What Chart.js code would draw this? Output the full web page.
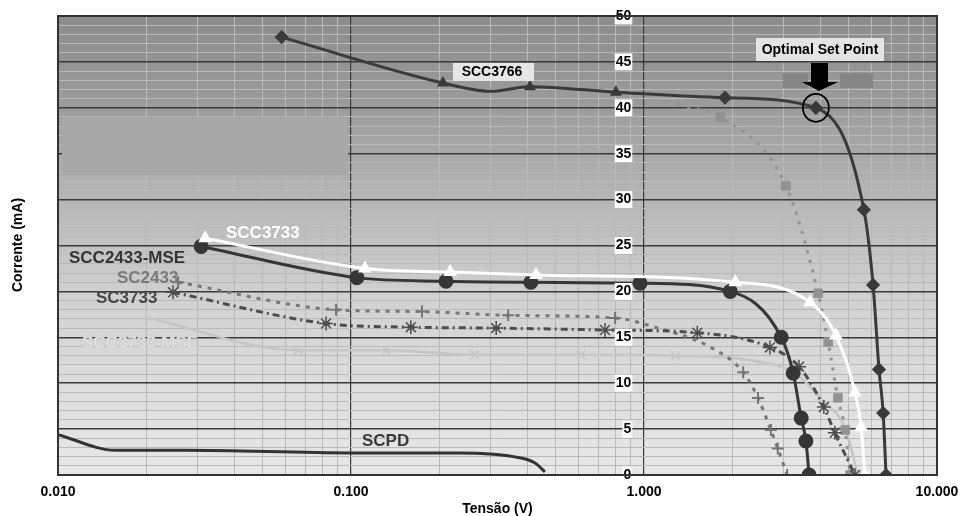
<!DOCTYPE html>
<html>
<head>
<meta charset="utf-8">
<script src="https://cdn.jsdelivr.net/npm/chart.js@4.4.1/dist/chart.umd.min.js"></script>
<style>
html,body{margin:0;padding:0;background:#fff;}
#wrap{width:961px;height:516px;}
</style>
</head>
<body>
<div id="wrap"><canvas id="chart"></canvas></div>
<script>
// series: tension (V) / current (mA)
const seriesNames = ["SCC3766", "SCC3733", "SCC2433-MSE", "SC3733", "SC2433", "SC3766", "SCC3733-MSE", "SCPD"];

const scc3766V = [0.058, 0.206, 0.30, 0.408, 0.802, 1.89, 3.86, 5.63, 6.05, 6.34, 6.55, 6.70];
const scc3766I = [47.7, 42.7, 41.8, 42.3, 41.7, 41.1, 40.0, 28.9, 20.7, 11.5, 6.75, 0];

const scc3733V = [0.0318, 0.1116, 0.218, 0.428, 2.05, 3.69, 4.52, 5.25, 5.51, 5.67];
const scc3733I = [25.8, 22.5, 22.1, 21.8, 21.0, 18.8, 15.2, 9.0, 5.2, 0];

const scc2433mseV = [0.0308, 0.1047, 0.211, 0.411, 0.969, 1.97, 2.94, 3.23, 3.44, 3.57, 3.66];
const scc2433mseI = [24.9, 21.5, 21.1, 21.0, 20.9, 20.0, 15.0, 11.1, 6.2, 3.7, 0];

const sc3733V = [0.0247, 0.0822, 0.160, 0.313, 0.736, 1.52, 2.69, 3.38, 4.11, 4.48, 5.25];
const sc3733I = [19.9, 16.5, 16.1, 16.0, 15.8, 15.5, 13.9, 11.8, 7.4, 4.6, 0];

const sc2433V = [0.0257, 0.0889, 0.1747, 0.344, 0.797, 1.09, 1.69, 2.18, 2.45, 2.71, 2.86, 3.08];
const sc2433I = [21.0, 18.0, 17.8, 17.4, 17.1, 16.1, 13.9, 11.2, 8.4, 4.9, 2.9, 0];

const sc3766V = [1.30, 1.82, 3.05, 3.93, 4.25, 4.59, 4.86, 5.05];
const sc3766I = [40.3, 39.0, 31.5, 19.8, 14.5, 8.4, 4.9, 0];

const scc3733mseV = [0.0203, 0.066, 0.1315, 0.265, 0.61, 1.28, 2.3, 3.3, 4.1, 4.86, 5.37];
const scc3733mseI = [17.1, 13.6, 13.6, 13.1, 13.1, 13.0, 12.5, 11.0, 8.0, 5.1, 0];

const scpdV = [0.01, 0.0157, 0.0271, 0.1, 0.232, 0.38, 0.425, 0.459];
const scpdI = [4.4, 2.7, 2.7, 2.4, 2.4, 1.85, 1.3, 0.33];

// x ticks: 1..9 per decade
const decades = [0.01, 0.1, 1];
const xTicks = [];
decades.forEach(d => { for (let k = 1; k <= 9; k++) xTicks.push(+(d * k).toPrecision(3)); });
xTicks.push(10);

const FONT = "'Liberation Sans', Arial, sans-serif";

function pts(xs, ys) { return xs.map((x, i) => ({x: x, y: ys[i]})); }
function isDecade(v) { const l = Math.log10(v); return Math.abs(l - Math.round(l)) < 1e-6; }

const datasets = [
    {label: seriesNames[0], data: pts(scc3766V, scc3766I), borderColor: "#3a3a3a", backgroundColor: "#3a3a3a",
     borderWidth: 3, pointStyle: ["rectRot","triangle","triangle","triangle","triangle","rectRot","rectRot","rectRot","rectRot","rectRot","rectRot","rectRot"],
     pointRadius: [5,4,0,4,4,5,5,5,5,5,5,5]},
    {label: seriesNames[1], data: pts(scc3733V, scc3733I), borderColor: "#ffffff", backgroundColor: "#ffffff",
     borderWidth: 3, pointStyle: "triangle", pointRadius: 5},
    {label: seriesNames[2], data: pts(scc2433mseV, scc2433mseI), borderColor: "#363636", backgroundColor: "#363636",
     borderWidth: 3, pointStyle: "circle", pointRadius: 6},
    {label: seriesNames[3], data: pts(sc3733V, sc3733I), borderColor: "#4d4d4d", backgroundColor: "#4d4d4d",
     borderWidth: 3, borderDash: [7,4,2,4], pointStyle: "star", pointRadius: 7, pointBorderWidth: 1.5},
    {label: seriesNames[4], data: pts(sc2433V, sc2433I), borderColor: "#767676", backgroundColor: "#767676",
     borderWidth: 3, borderDash: [4,6], pointStyle: "cross", pointRadius: [6,6,6,6,6,0,0,6,6,6,6,6], pointBorderWidth: 2},
    {label: seriesNames[5], data: pts(sc3766V, sc3766I), borderColor: "#929292", backgroundColor: "#929292",
     borderWidth: 3, borderDash: [3,7], pointStyle: "rect", pointRadius: [0,6,6,6,6,6,6,6], pointBorderWidth: 1},
    {label: seriesNames[6], data: pts(scc3733mseV, scc3733mseI), borderColor: "#c6c6c6", backgroundColor: "#c6c6c6",
     borderWidth: 2.5, pointStyle: "crossRot", pointRadius: [4,6,6,6,6,6,0,0,0,6,6], pointBorderWidth: 1.5},
    {label: seriesNames[7], data: pts(scpdV, scpdI), borderColor: "#333333", backgroundColor: "#333333",
     borderWidth: 3, pointRadius: 0}
];
datasets.forEach(d => { d.cubicInterpolationMode = "monotone"; d.fill = false; });

// background gradient, frame and annotations
const decor = {
    id: "decor",
    beforeDraw(chart) {
        const {ctx, chartArea: a} = chart;
        const g = ctx.createLinearGradient(0, a.top, 0, a.bottom);
        g.addColorStop(0, "#8c8c8c");
        g.addColorStop(0.2, "#9c9c9c");
        g.addColorStop(0.4, "#b6b6b6");
        g.addColorStop(0.62, "#d2d2d2");
        g.addColorStop(1, "#e8e8e8");
        ctx.save();
        ctx.fillStyle = g;
        ctx.fillRect(a.left, a.top, a.right - a.left, a.bottom - a.top);
        ctx.restore();
    },
    beforeDatasetsDraw(chart) {
        const ctx = chart.ctx;
        ctx.save();
        ctx.fillStyle = "#a8a8a8";
        ctx.fillRect(62, 118, 286, 57);
        ctx.restore();
    },
    afterDraw(chart) {
        const {ctx, chartArea: a, scales} = chart;
        ctx.save();
        // frame
        ctx.strokeStyle = "#333";
        ctx.lineWidth = 2;
        ctx.strokeRect(a.left, a.top, a.right - a.left, a.bottom - a.top);

        // SCC3766 label box
        ctx.fillStyle = "#e6e6e6";
        ctx.fillRect(453, 63, 81, 18);
        ctx.fillStyle = "#000";
        ctx.font = "bold 14px " + FONT;
        ctx.textAlign = "center";
        ctx.textBaseline = "middle";
        ctx.fillText("SCC3766", 492, 72);

        // Optimal Set Point
        ctx.fillStyle = "#e4e4e4";
        ctx.fillRect(756, 38, 128, 23);
        ctx.fillStyle = "#000";
        ctx.fillText("Optimal Set Point", 820, 50);
        ctx.fillStyle = "#858585";
        ctx.fillRect(783, 73, 25, 15);
        ctx.fillRect(840, 73, 33, 15);
        ctx.fillStyle = "#000";
        ctx.fillRect(811, 63, 17, 20);
        ctx.beginPath();
        ctx.moveTo(802, 82); ctx.lineTo(838, 82); ctx.lineTo(819, 91); ctx.closePath();
        ctx.fill();
        const cx = scales.x.getPixelForValue(scc3766V[6]);
        const cy = scales.y.getPixelForValue(scc3766I[6]);
        ctx.beginPath();
        ctx.ellipse(cx, cy, 13, 14, 0, 0, Math.PI * 2);
        ctx.strokeStyle = "#000";
        ctx.lineWidth = 1.8;
        ctx.stroke();

        // curve labels
        ctx.font = "bold 17px " + FONT;
        ctx.textAlign = "left";
        ctx.fillStyle = "#ffffff"; ctx.fillText("SCC3733", 226, 233);
        ctx.fillStyle = "#333333"; ctx.fillText("SCC2433-MSE", 69, 258);
        ctx.fillStyle = "#7a7a7a"; ctx.fillText("SC2433", 117, 278);
        ctx.fillStyle = "#474747"; ctx.fillText("SC3733", 96, 298);
        ctx.fillStyle = "#3a3a3a"; ctx.fillText("SCPD", 362, 441);
        ctx.fillStyle = "#e4e4e4"; ctx.fillText("SCC3733-MSE", 82, 343);
        ctx.strokeStyle = "#c9c9c9"; ctx.lineWidth = 0.6; ctx.strokeText("SCC3733-MSE", 82, 343);

        // y title
        ctx.translate(18, 245);
        ctx.rotate(-Math.PI / 2);
        ctx.textAlign = "center";
        ctx.fillStyle = "#000";
        ctx.font = "bold 14px " + FONT;
        ctx.fillText("Corrente (mA)", 0, 0);
        ctx.restore();
    }
};

const ctx = document.querySelector("#chart");

const configChart = {
    type: "line",
    data: {datasets: datasets},
    plugins: [decor],
    options: {
        responsive: true,
        maintainAspectRatio: false,
        animation: false,
        layout: {padding: {left: 58, right: 24, top: 16, bottom: 0}},
        plugins: {legend: {display: false}, tooltip: {enabled: false}},
        scales: {
            x: {
                type: "logarithmic",
                min: 0.01,
                max: 10,
                position: "bottom",
                afterBuildTicks: s => { s.ticks = xTicks.map(v => ({value: v})); },
                afterFit: s => { s.height = 41; s.paddingLeft = 0; s.paddingRight = 0; },
                grid: {
                    drawTicks: false,
                    color: c => isDecade(c.tick.value) ? "#3a3a3a" : "#b9b9b9",
                    lineWidth: c => isDecade(c.tick.value) ? 1.2 : 1
                },
                border: {display: false},
                ticks: {
                    autoSkip: false, maxRotation: 0, padding: 9, color: "#000",
                    font: {family: FONT, size: 14, weight: "bold"},
                    callback: v => isDecade(v) ? v.toFixed(3) : ""
                },
                title: {display: true, text: "Tensão (V)", color: "#000", padding: 0,
                        font: {family: FONT, size: 14, weight: "bold", lineHeight: 1}}
            },
            y: {
                type: "linear",
                min: 0,
                max: 50,
                // labels sit just left of the 1.000 line
                position: {x: 0.905},
                afterFit: s => { s.paddingTop = 0; s.paddingBottom = 0; },
                grid: {
                    drawTicks: false,
                    color: c => c.tick.value % 5 === 0 ? "#3a3a3a" : "#b9b9b9",
                    lineWidth: c => c.tick.value % 5 === 0 ? 1.5 : 1
                },
                border: {display: false},
                ticks: {
                    stepSize: 1, autoSkip: false, padding: 0, z: 1, color: "#000",
                    font: {family: FONT, size: 14, weight: "bold"},
                    showLabelBackdrop: c => c.tick.value % 5 === 0,
                    backdropColor: "#ffffff",
                    backdropPadding: {left: 1, right: 1, top: 0, bottom: 0},
                    callback: v => v % 5 === 0 ? String(v) : ""
                }
            }
        }
    }
};

new Chart(ctx, configChart);
</script>
</body>
</html>
